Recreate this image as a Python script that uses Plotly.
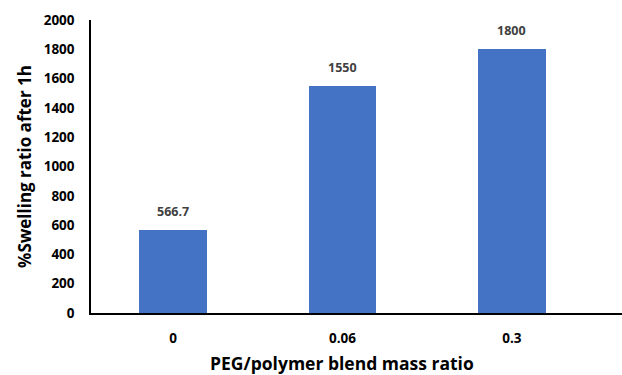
import plotly.graph_objects as go

# PEG/polymer blend mass ratio vs. swelling after 1 h
ratios = ["0", "0.06", "0.3"]
swelling = [566.7, 1550, 1800]
value_labels = ["566.7", "1550", "1800"]
y_ticks = list(range(0, 2001, 200))

x_pos = list(range(len(ratios)))
bar_color = "#4472C4"
font_family = "Open Sans, Noto Sans, sans-serif"

fig = go.Figure()
fig.add_trace(go.Bar(
    x=x_pos,
    y=swelling,
    width=0.4,
    marker=dict(color=bar_color, line=dict(width=0)),
    hoverinfo="skip",
))

# value labels above each bar
for xp, v, lab in zip(x_pos, swelling, value_labels):
    fig.add_annotation(
        x=xp, y=v, text=f"<b>{lab}</b>", showarrow=False,
        yanchor="bottom", yshift=8,
        font=dict(family=font_family, size=12.5, color="#404040"),
    )

# x-axis title, centred under the middle category
fig.add_annotation(
    x=1, xref="x", y=-0.172, yref="paper", yanchor="middle",
    text="<b>PEG/polymer blend mass ratio</b>", showarrow=False,
    font=dict(family=font_family, size=17.5, color="black"),
)

fig.update_layout(
    width=622, height=375,
    margin=dict(l=91, r=0, t=20, b=62),
    paper_bgcolor="white", plot_bgcolor="white",
    showlegend=False,
    font=dict(family=font_family, color="black"),
    bargap=0,
)

fig.update_xaxes(
    range=[-0.484, 2.65],
    tickmode="array", tickvals=x_pos,
    ticktext=[f"<b>{r}</b>" for r in ratios],
    tickfont=dict(family=font_family, size=13.5, color="black"),
    showline=True, linecolor="black", linewidth=1.5,
    showgrid=False, zeroline=False, ticks="",
    ticklabelstandoff=12,
)

fig.update_yaxes(
    range=[0, 2000],
    tickmode="array", tickvals=y_ticks,
    ticktext=[f"<b>{t}</b>" for t in y_ticks],
    tickfont=dict(family=font_family, size=13.5, color="black"),
    showline=True, linecolor="black", linewidth=1.5,
    showgrid=False, zeroline=False, ticks="",
    ticklabelstandoff=12,
    title=dict(text="<b>%Swelling ratio after 1h</b>",
               font=dict(family=font_family, size=17, color="black"),
               standoff=8),
)

fig.write_html("out.html")
